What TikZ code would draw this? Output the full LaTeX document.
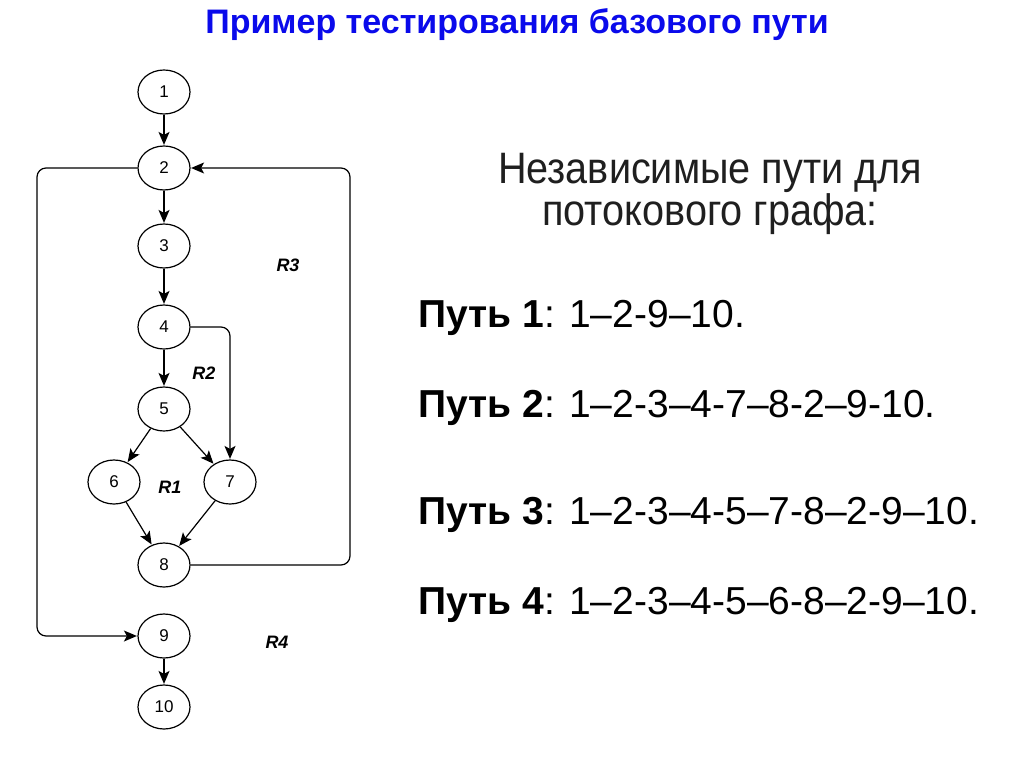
\documentclass[tikz,border=0pt]{standalone}
\usepackage{fontspec}
\setmainfont{Liberation Sans}
\newfontfamily\headfont[FakeStretch=0.9]{Liberation Sans}
\usetikzlibrary{arrows.meta,shapes.geometric}
\definecolor{titleblue}{RGB}{10,10,235}
\tikzset{
  vx/.style={ellipse,draw,line width=1.2pt,minimum width=52pt,minimum height=44pt,inner sep=0pt,font=\fontsize{17}{17}\selectfont},
  edge/.style={line width=1.2pt,-{Stealth[length=13pt,width=11pt,inset=3pt]},shorten >=0.5pt},
  loop/.style={edge,rounded corners=9pt},
  reg/.style={font=\fontsize{18}{18}\selectfont\bfseries\itshape},
  ptxt/.style={anchor=west,font=\fontsize{39}{39}\selectfont,inner sep=0pt}
}
\begin{document}
\begin{tikzpicture}[x=1pt,y=-1pt]
\useasboundingbox[fill=white] (0,0) rectangle (1024,767);
\node[text=titleblue,font=\fontsize{34}{34}\selectfont\bfseries] (title) at (517,25) {Пример тестирования базового пути};
% graph
\node[vx] (n1) at (164,92) {1};
\node[vx] (n2) at (164,168) {2};
\node[vx] (n3) at (164,246) {3};
\node[vx] (n4) at (164,327) {4};
\node[vx] (n5) at (164,409) {5};
\node[vx] (n6) at (114,482) {6};
\node[vx] (n7) at (230,482) {7};
\node[vx] (n8) at (164,565) {8};
\node[vx] (n9) at (164,636) {9};
\node[vx] (n10) at (164,707) {10};
\coordinate (lc1) at (37,168);
\coordinate (lc2) at (37,636);
\coordinate (rc1) at (350,565);
\coordinate (rc2) at (350,168);
\coordinate (c47) at (230,327);
\draw[edge] (n1) -- (n2);
\draw[edge] (n2) -- (n3);
\draw[edge] (n3) -- (n4);
\draw[edge] (n4) -- (n5);
\draw[edge] (n5) -- (n6);
\draw[edge] (n5) -- (n7);
\draw[edge] (n6) -- (n8);
\draw[edge] (n7) -- (n8);
\draw[edge] (n9) -- (n10);
\draw[loop] (n4.east) -- (c47) -- (n7.north);
\draw[loop] (n2.west) -- (lc1) -- (lc2) -- (n9.west);
\draw[loop] (n8.east) -- (rc1) -- (rc2) -- (n2.east);
\node[reg] (r3) at (288,265) {R3};
\node[reg] (r2) at (204,373) {R2};
\node[reg] (r1) at (170,487) {R1};
\node[reg] (r4) at (277,642) {R4};
% text
\node[align=center,text=black!88,font=\headfont\fontsize{44}{33}\selectfont] (head) at (710,194) {Независимые пути для\\потокового графа:};
\node[ptxt] (p1) at (418,318) {\textbf{Путь 1}: 1–2-9–10.};
\node[ptxt] (p2) at (418,408) {\textbf{Путь 2}: 1–2-3–4-7–8-2–9-10.};
\node[ptxt] (p3) at (418,515) {\textbf{Путь 3}: 1–2-3–4-5–7-8–2-9–10.};
\node[ptxt] (p4) at (418,605) {\textbf{Путь 4}: 1–2-3–4-5–6-8–2-9–10.};
\end{tikzpicture}
\end{document}
